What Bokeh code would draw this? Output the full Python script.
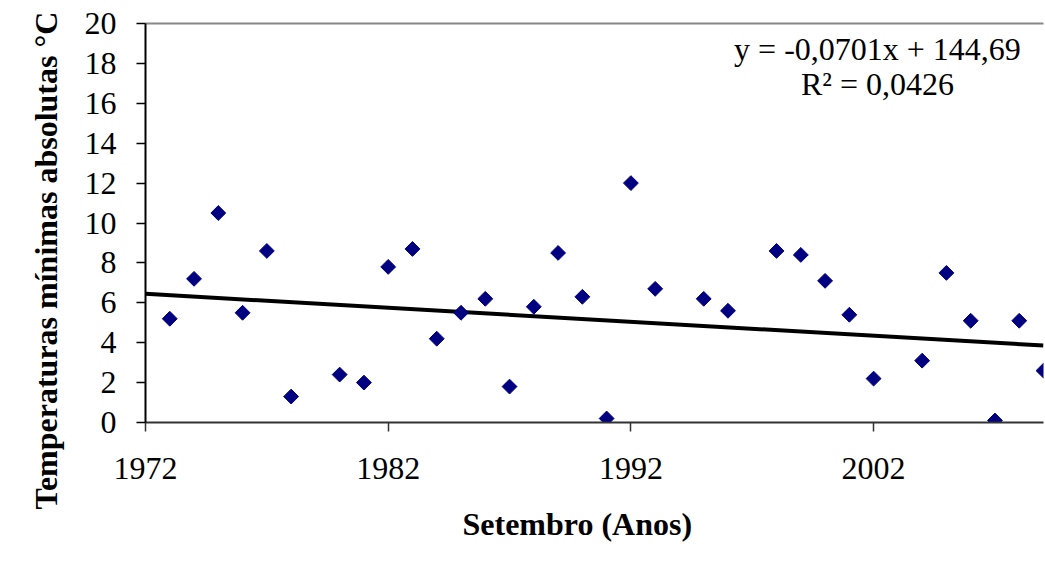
import numpy as np
from bokeh.plotting import figure
from bokeh.models import Label, LinearAxis, FixedTicker, Range1d, Title
from bokeh.embed import file_html
from bokeh.resources import INLINE

years = [1973, 1974, 1975, 1976, 1977, 1978, 1980, 1981, 1982, 1983, 1984, 1985,
         1986, 1987, 1988, 1989, 1990, 1991, 1992, 1993, 1995, 1996, 1998, 1999,
         2000, 2001, 2002, 2004, 2005, 2006, 2007, 2008, 2009]
temps = [5.2, 7.2, 10.5, 5.5, 8.6, 1.3, 2.4, 2.0, 7.8, 8.7, 4.2, 5.5,
         6.2, 1.8, 5.8, 8.5, 6.3, 0.2, 12.0, 6.7, 6.2, 5.6, 8.6, 8.4,
         7.1, 5.4, 2.2, 3.1, 7.5, 5.1, 0.1, 5.1, 2.6]
x_ticks = [1972, 1982, 1992, 2002]
y_ticks = [0, 2, 4, 6, 8, 10, 12, 14, 16, 18, 20]
slope = -0.0701
intercept = 144.69
eq_line1 = "y = -0,0701x + 144,69"
eq_line2 = "R² = 0,0426"
x_title = "Setembro (Anos)"
y_title = "Temperaturas mínimas absolutas °C"

FONT = "Liberation Serif"

p = figure(width=1045, height=563, output_backend="svg", toolbar_location=None,
           x_range=Range1d(1972, 2009), y_range=Range1d(0, 20),
           min_border_left=145, min_border_right=2, min_border_top=23, min_border_bottom=140)
p.outline_line_color = None
p.xgrid.visible = False
p.ygrid.visible = False
p.background_fill_color = "white"
p.border_fill_color = "white"

for ax in (p.xaxis[0], p.yaxis[0]):
    ax.major_label_text_font = FONT
    ax.major_label_text_font_size = "32px"
    ax.major_label_text_color = "black"
    ax.major_tick_out = 9
    ax.major_tick_in = 0
    ax.minor_tick_out = 0
    ax.minor_tick_in = 0
    ax.axis_line_width = 2
    ax.major_tick_line_width = 1.5
    ax.major_tick_line_color = "black"
    ax.axis_label = None

p.xaxis[0].ticker = FixedTicker(ticks=x_ticks)
p.yaxis[0].ticker = FixedTicker(ticks=y_ticks)
p.xaxis[0].axis_line_color = "#333333"
p.xaxis[0].major_tick_line_color = "#333333"
p.yaxis[0].axis_line_color = "black"
p.xaxis[0].major_label_standoff = 26
p.yaxis[0].major_label_standoff = 20

top = LinearAxis(axis_line_color="#888888", axis_line_width=2, major_tick_line_color=None,
                 minor_tick_line_color=None, major_label_text_font_size="0px")
top.ticker = FixedTicker(ticks=[])
p.add_layout(top, "above")

# trend line from the equation
xs = np.array([1972, 2009])
p.line(xs, slope * xs + intercept, line_color="black", line_width=4)

p.scatter(years, temps, marker="square", angle=np.pi / 4, size=10.5,
          fill_color="#000080", line_color="#000080")

p.add_layout(Label(x=2002.16, y=18.7, text=eq_line1, text_align="center", text_baseline="middle",
                   text_font=FONT, text_font_size="32px", text_color="black"))
p.add_layout(Label(x=2002.16, y=16.95, text=eq_line2, text_align="center", text_baseline="middle",
                   text_font=FONT, text_font_size="32px", text_color="black"))

p.add_layout(Title(text=x_title, align="left", offset=317, standoff=44,
                   text_font=FONT, text_font_size="32px", text_font_style="bold",
                   text_color="black"), "below")
p.add_layout(Title(text=y_title, align="left", offset=-87, standoff=36,
                   text_font=FONT, text_font_size="32px", text_font_style="bold",
                   text_color="black"), "left")

open("out.html", "w").write(file_html(p, INLINE))
